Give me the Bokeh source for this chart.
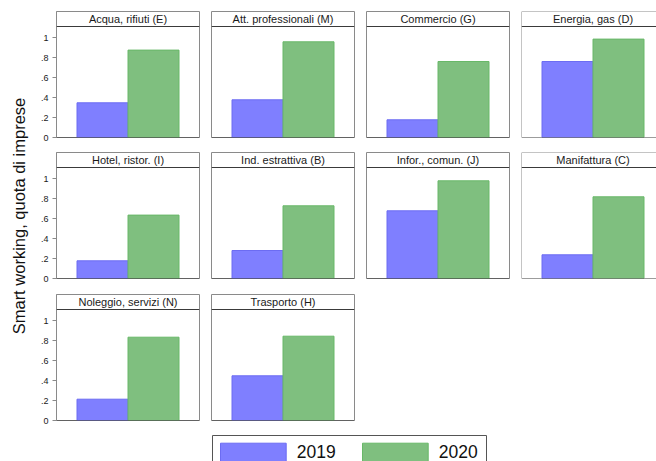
import math

from bokeh.plotting import figure
from bokeh.layouts import row, column
from bokeh.models import Range1d, Span
from bokeh.core.properties import value
from bokeh.embed import file_html
from bokeh.resources import INLINE

# Share of firms using smart working, by sector
sectors = [
    "Acqua, rifiuti (E)", "Att. professionali (M)", "Commercio (G)", "Energia, gas (D)",
    "Hotel, ristor. (I)", "Ind. estrattiva (B)", "Infor., comun. (J)", "Manifattura (C)",
    "Noleggio, servizi (N)", "Trasporto (H)",
]
share_2019 = [0.347, 0.377, 0.177, 0.76, 0.177, 0.28, 0.677, 0.237, 0.213, 0.447]
share_2020 = [0.874, 0.957, 0.76, 0.984, 0.634, 0.727, 0.977, 0.817, 0.833, 0.843]
years = ["2019", "2020"]

y_ticks = [0, 0.2, 0.4, 0.6, 0.8, 1]
y_tick_labels = ["0", ".2", ".4", ".6", ".8", "1"]
y_title = "Smart working, quota di imprese"

FONT_NAME = "Liberation Sans"
FONT = value(FONT_NAME)
BLUE, BLUE_LINE = "#7f7fff", "#6c6cf2"
GREEN, GREEN_LINE = "#7fbf7f", "#68b868"
FRAME_GREY = "#8a8a8a"
DARK = "#3a3a3a"

N_COLS = 4
BAR_PX = 51.0          # pixel width of one bar
PANEL_W = 143          # full panel width in pixels
PANEL_H = 126          # panel height incl. header strip
Y_TOP = 1.26           # top of the y scale (strip included)
STRIP_BOTTOM = 1.11    # header strip starts here
X0 = -PANEL_W / BAR_PX / 2
TITLE_W = 30           # strip on the left holding the shared y title
GRID_H = 425           # height of the three panel rows
PAGE_W, PAGE_H = 656, 461


def make_panel(i):
    col, r = i % N_COLS, i // N_COLS
    last_col = col == N_COLS - 1
    fw = 135 if last_col else PANEL_W
    p = figure(
        frame_width=fw, frame_height=PANEL_H,
        x_range=Range1d(X0, X0 + fw / BAR_PX),
        y_range=Range1d(0, Y_TOP),
        x_axis_type=None,
        y_axis_type="linear" if col == 0 else None,
        toolbar_location=None, output_backend="svg",
        min_border_left=26 if col == 0 else 0,
        min_border_right=0 if last_col else 12,
        min_border_top=11,
        min_border_bottom=[4, 5, 5][r],
        background_fill_color="white", border_fill_color="white",
        outline_line_color=None if last_col else FRAME_GREY,
    )
    p.vbar(x=[-0.5], top=[share_2019[i]], bottom=0, width=1,
           fill_color=BLUE, line_color=BLUE_LINE, line_width=1)
    p.vbar(x=[0.5], top=[share_2020[i]], bottom=0, width=1,
           fill_color=GREEN, line_color=GREEN_LINE, line_width=1)

    # header strip
    p.add_layout(Span(location=STRIP_BOTTOM, dimension="width",
                      line_color=DARK, line_width=1))
    p.text(x=[0], y=[(STRIP_BOTTOM + Y_TOP) / 2], text=[sectors[i]],
           text_align="center", text_baseline="middle",
           text_font=FONT, text_font_size="11px", text_color="#1a1a1a")

    # baseline
    p.add_layout(Span(location=0, dimension="width", line_color=DARK, line_width=1))

    if last_col:
        # panel runs past the right edge: left and top borders only
        p.add_layout(Span(location=X0, dimension="height",
                          line_color=FRAME_GREY, line_width=1))
        p.add_layout(Span(location=Y_TOP, dimension="width",
                          line_color=FRAME_GREY, line_width=1))

    if col == 0:
        ax = p.yaxis[0]
        ax.ticker = y_ticks
        ax.major_label_overrides = dict(zip(y_ticks, y_tick_labels))
        ax.major_tick_out = 4
        ax.major_tick_in = 0
        ax.minor_tick_out = 0
        ax.minor_tick_in = 0
        ax.major_label_standoff = 4
        ax.axis_line_color = FRAME_GREY
        ax.major_tick_line_color = FRAME_GREY
        ax.major_label_text_font = FONT_NAME
        ax.major_label_text_font_size = "9px"
        ax.major_label_text_color = "#1a1a1a"
        p.ygrid.visible = False
    return p


panels = [make_panel(i) for i in range(len(sectors))]

# shared y title, running along all three rows
tf = figure(frame_width=TITLE_W, frame_height=GRID_H,
            x_range=Range1d(0, TITLE_W), y_range=Range1d(GRID_H, 0),
            x_axis_type=None, y_axis_type=None, toolbar_location=None,
            output_backend="svg", min_border=0, outline_line_color=None,
            background_fill_color="white", border_fill_color="white")
tf.text(x=[18], y=[215.5], text=[y_title], angle=math.pi / 2,
        text_align="center", text_baseline="middle",
        text_font=FONT, text_font_size="16.5px", text_color="#111111")

# key strip below the panels (page pixel units, y pointing down);
# the key box runs past the bottom edge of the page
lf = figure(frame_width=PAGE_W, frame_height=PAGE_H - GRID_H,
            x_range=Range1d(0, PAGE_W), y_range=Range1d(PAGE_H, GRID_H),
            x_axis_type=None, y_axis_type=None, toolbar_location=None,
            output_backend="svg", min_border=0, outline_line_color=None,
            background_fill_color="white", border_fill_color="white")
key_left, key_right, key_top = 212, 486, 435
lf.multi_line(xs=[[key_left, key_left, key_right, key_right]],
              ys=[[PAGE_H, key_top, key_top, PAGE_H]],
              line_color="#555555", line_width=1)
swatch_left = [220, 362]
swatch_w = 65.7
lf.quad(left=swatch_left, right=[s + swatch_w for s in swatch_left],
        top=key_top + 7.7, bottom=PAGE_H + 1,
        fill_color=[BLUE, GREEN], line_color=[BLUE_LINE, GREEN_LINE], line_width=1)
lf.text(x=[s + swatch_w + 10.5 for s in swatch_left], y=[451] * 2, text=years,
        text_align="left", text_baseline="middle",
        text_font=FONT, text_font_size="17.5px", text_color="#111111")

grid = column(
    row(*panels[0:4]),
    row(*panels[4:8]),
    row(*panels[8:10]),
)
layout = column(row(tf, grid), lf)

open("out.html", "w").write(file_html(layout, INLINE))
